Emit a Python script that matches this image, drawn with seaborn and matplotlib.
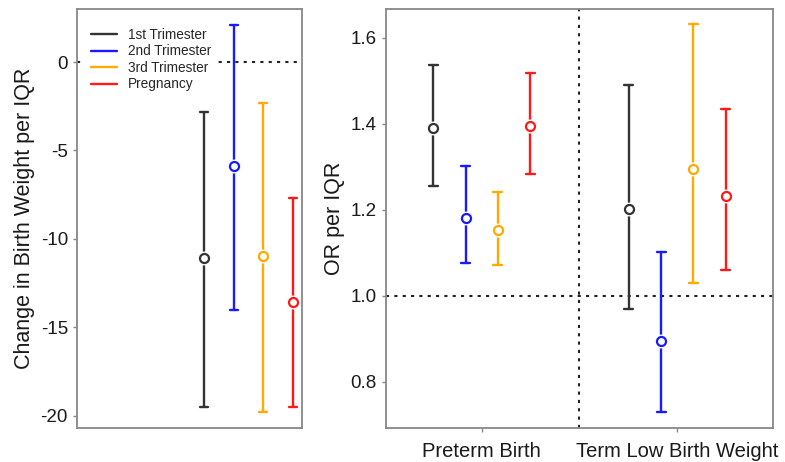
import numpy as np
import pandas as pd
import matplotlib
matplotlib.use("Agg")
import matplotlib.pyplot as plt
from matplotlib.lines import Line2D
import seaborn as sns

sns.set_theme(style="ticks")
plt.rcParams['font.family'] = ['Liberation Sans', 'DejaVu Sans']
plt.rcParams['axes.unicode_minus'] = False

# exposure windows
periods = ["1st Trimester", "2nd Trimester", "3rd Trimester", "Pregnancy"]
colors = ["#333333", "#1a1aff", "#ffaa00", "#ff1a1a"]

# change in birth weight per IQR (estimate, 95% CI)
bw_est = [-11.1, -5.9, -11.0, -13.6]
bw_lo = [-19.5, -14.0, -19.8, -19.5]
bw_hi = [-2.8, 2.1, -2.3, -7.7]

# odds ratios per IQR
outcomes = ["Preterm Birth", "Term Low Birth Weight"]
ptb_est = [1.39, 1.18, 1.153, 1.394]
ptb_lo = [1.256, 1.075, 1.072, 1.282]
ptb_hi = [1.536, 1.302, 1.242, 1.518]
lbw_est = [1.201, 0.895, 1.295, 1.232]
lbw_lo = [0.968, 0.729, 1.029, 1.06]
lbw_hi = [1.49, 1.101, 1.631, 1.434]


def long_rows(outcome, est, lo, hi):
    # three rows per period: median = estimate, min/max = CI bounds
    rows = []
    for p, e, l, h in zip(periods, est, lo, hi):
        for v in (l, e, h):
            rows.append({"outcome": outcome, "period": p, "value": v})
    return rows


bw = pd.DataFrame(long_rows("bw", bw_est, bw_lo, bw_hi))
odds = pd.DataFrame(long_rows(outcomes[0], ptb_est, ptb_lo, ptb_hi)
                    + long_rows(outcomes[1], lbw_est, lbw_lo, lbw_hi))
pal = dict(zip(periods, colors))
white = dict(zip(periods, ["white"] * len(periods)))

fig = plt.figure(figsize=(7.85, 4.62), dpi=100)
ax1 = fig.add_axes([0.098, 0.0736, 0.2866, 0.907])
ax2 = fig.add_axes([0.4917, 0.0736, 0.493, 0.907])

pt_kws = dict(estimator="median", errorbar=("pi", 100), linestyle="none",
              markers="o", markersize=6.5, markeredgewidth=1.6,
              markerfacecolor="white", zorder=3, legend=False)
# white halo behind the markers so the CI line stops short of the circle
halo_kws = dict(estimator="median", errorbar=None, linestyle="none",
                markers="o", markersize=10, markeredgewidth=0,
                zorder=2, legend=False)

sns.pointplot(data=bw, x="period", y="value", hue="period", palette=pal,
              order=periods, hue_order=periods, capsize=0.27,
              err_kws={"linewidth": 1.7, "zorder": 1}, ax=ax1, **pt_kws)
sns.pointplot(data=bw, x="period", y="value", hue="period", palette=white,
              order=periods, hue_order=periods, ax=ax1, **halo_kws)
ax1.axhline(0, color="#222222", linestyle=(0, (1.5, 2.5)), linewidth=1.5, zorder=0)
ax1.set_xlim(-4.3, 3.3)
ax1.set_ylim(-20.7, 3.0)
ax1.set_yticks([0, -5, -10, -15, -20])
ax1.set_xticks([])
ax1.set_xlabel("")
ax1.set_ylabel("Change in Birth Weight per IQR", fontsize=15.5, color="#1a1a1a")

handles = [Line2D([], [], color=c, linewidth=1.7) for c in colors]
leg = ax1.legend(handles, periods, loc="upper left", fontsize=9.8,
                 handlelength=1.9, handletextpad=0.8, labelspacing=0.18,
                 borderaxespad=0, borderpad=0.5, frameon=True, fancybox=False,
                 bbox_to_anchor=(0.032, 0.971))
leg.get_frame().set_facecolor("white")
leg.get_frame().set_edgecolor("none")
leg.get_frame().set_alpha(1)
leg.set_zorder(5)

sns.pointplot(data=odds, x="outcome", y="value", hue="period", palette=pal,
              order=outcomes, hue_order=periods, dodge=0.496, capsize=0.046,
              err_kws={"linewidth": 1.7, "zorder": 1}, ax=ax2, **pt_kws)
sns.pointplot(data=odds, x="outcome", y="value", hue="period", palette=white,
              order=outcomes, hue_order=periods, dodge=0.496, ax=ax2, **halo_kws)
ax2.axhline(1.0, color="#222222", linestyle=(0, (1.5, 2.5)), linewidth=1.5, zorder=0)
ax2.axvline(0.5, color="#222222", linestyle=(0, (1.5, 2.5)), linewidth=1.5, zorder=0)
ax2.set_xlim(-0.49, 1.49)
ax2.set_ylim(0.692, 1.667)
ax2.set_yticks([0.8, 1.0, 1.2, 1.4, 1.6])
ax2.set_yticklabels(["0.8", "1.0", "1.2", "1.4", "1.6"])
ax2.set_xlabel("")
ax2.set_ylabel("OR per IQR", fontsize=15.5, color="#1a1a1a")

for ax in (ax1, ax2):
    for s in ax.spines.values():
        s.set_visible(True)
        s.set_color("#888888")
        s.set_linewidth(1.3)
    ax.tick_params(axis="both", length=3, width=1, color="#888888",
                   labelsize=13.5, labelcolor="#1a1a1a")
ax2.tick_params(axis="x", labelsize=14.5, pad=7)

fig.savefig("out.png", dpi=100)
